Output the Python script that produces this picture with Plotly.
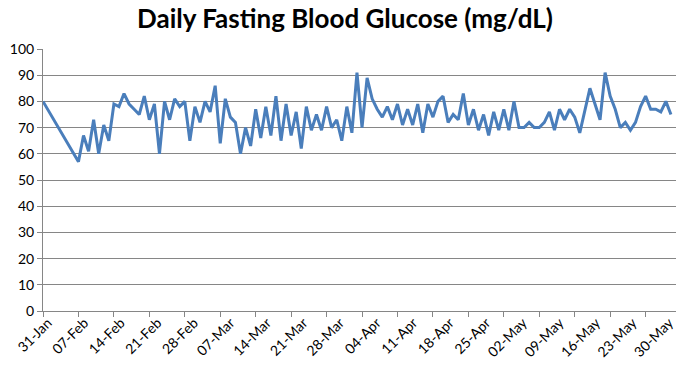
import plotly.graph_objects as go
import pandas as pd

start_date = "2013-01-31"
# day offsets from 31-Jan for each reading
day_offsets = [0] + list(range(7, 125))
glucose = [
    80,
    57, 67, 61, 73, 60, 71, 65, 79, 78, 83, 79, 77, 75, 82, 73, 79, 60, 80,
    73, 81, 78, 80, 65, 78, 72, 80, 76, 86, 64, 81, 74, 72, 60, 70, 63, 77,
    66, 78, 67, 82, 65, 79, 67, 76, 62, 78, 69, 75, 69, 78, 70, 73, 65, 78,
    68, 91, 70, 89, 81, 77, 74, 78, 73, 79, 71, 77, 71, 79, 68, 79, 74, 80,
    82, 72, 75, 73, 83, 71, 77, 69, 75, 67, 76, 69, 77, 69, 80, 70, 70, 72,
    70, 70, 72, 76, 69, 77, 73, 77, 74, 68, 77, 85, 79, 73, 91, 82, 77, 70,
    72, 69, 72, 78, 82, 77, 77, 76, 80, 75,
]
tick_start = "2013-01-31"
axis_end = "2013-06-05"
y_ticks = list(range(0, 101, 10))

dates = pd.to_datetime(start_date) + pd.to_timedelta(day_offsets, unit="D")
t0 = pd.to_datetime(start_date)
WEEK_MS = 7 * 24 * 3600 * 1000

# body margin is removed by the post script, so the figure sits at (0, 0)
W, H = 700, 384
L, R, T, B = 43, 5, 49, 73
plot_left_page = L
plot_right_page = W - R
data_right_page = 676
dom_end = (data_right_page - plot_left_page) / (plot_right_page - plot_left_page)

# label axis: spreads the rotated labels as in the reference
lab_p0, lab_p1 = 48.0, 688.0  # px where the 31-Jan and 30-May labels end
px_per_day = (lab_p1 - lab_p0) / 119.0
lab_lo = t0 + pd.Timedelta(days=(plot_left_page - lab_p0) / px_per_day)
lab_hi = t0 + pd.Timedelta(days=(plot_right_page - lab_p0) / px_per_day)

fig = go.Figure()
fig.add_trace(
    go.Scatter(
        x=dates,
        y=glucose,
        mode="lines",
        line=dict(color="#4A7EBB", width=3),
        hoverinfo="x+y",
        showlegend=False,
    )
)
# empty trace that only carries the label axis
fig.add_trace(
    go.Scatter(
        x=[dates[0]],
        y=[None],
        xaxis="x2",
        mode="lines",
        hoverinfo="skip",
        showlegend=False,
    )
)

fig.update_layout(
    width=W,
    height=H,
    paper_bgcolor="white",
    plot_bgcolor="rgba(0,0,0,0)",
    margin=dict(l=L, r=R, t=T, b=B),
    showlegend=False,
    title=dict(
        text="<b>Daily Fasting Blood Glucose (mg/dL)</b>",
        x=345 / W,
        xanchor="center",
        y=1 - 19 / H,
        yanchor="middle",
        yref="container",
        font=dict(family="Lato, Open Sans, sans-serif", size=26, color="#000000"),
    ),
    font=dict(family="Lato, Open Sans, sans-serif", size=14, color="#000000"),
    xaxis=dict(
        type="date",
        domain=[0, dom_end],
        range=[t0, pd.to_datetime(axis_end)],
        tick0=tick_start,
        dtick=WEEK_MS,
        ticks="outside",
        ticklen=5,
        tickcolor="#868686",
        showticklabels=False,
        showline=True,
        linecolor="#868686",
        linewidth=1,
        showgrid=False,
        zeroline=False,
        automargin=False,
    ),
    xaxis2=dict(
        type="date",
        overlaying="x",
        anchor="y",
        side="bottom",
        domain=[0, 1],
        range=[lab_lo, lab_hi],
        tick0=tick_start,
        dtick=WEEK_MS,
        tickformat="%d-%b",
        tickangle=-45,
        ticks="",
        showline=False,
        showgrid=False,
        zeroline=False,
        automargin=False,
        tickfont=dict(size=14, color="#000000"),
    ),
    yaxis=dict(
        range=[0, 100],
        tickvals=y_ticks,
        ticks="outside",
        ticklen=5,
        tickcolor="#868686",
        showline=True,
        linecolor="#868686",
        linewidth=1,
        showgrid=True,
        gridcolor="#868686",
        gridwidth=1,
        zeroline=False,
        automargin=False,
        tickfont=dict(size=14),
    ),
)

fig.write_html(
    "out.html",
    config={"displayModeBar": False},
    post_script="document.body.style.margin='0px';document.body.style.overflow='hidden';",
)
